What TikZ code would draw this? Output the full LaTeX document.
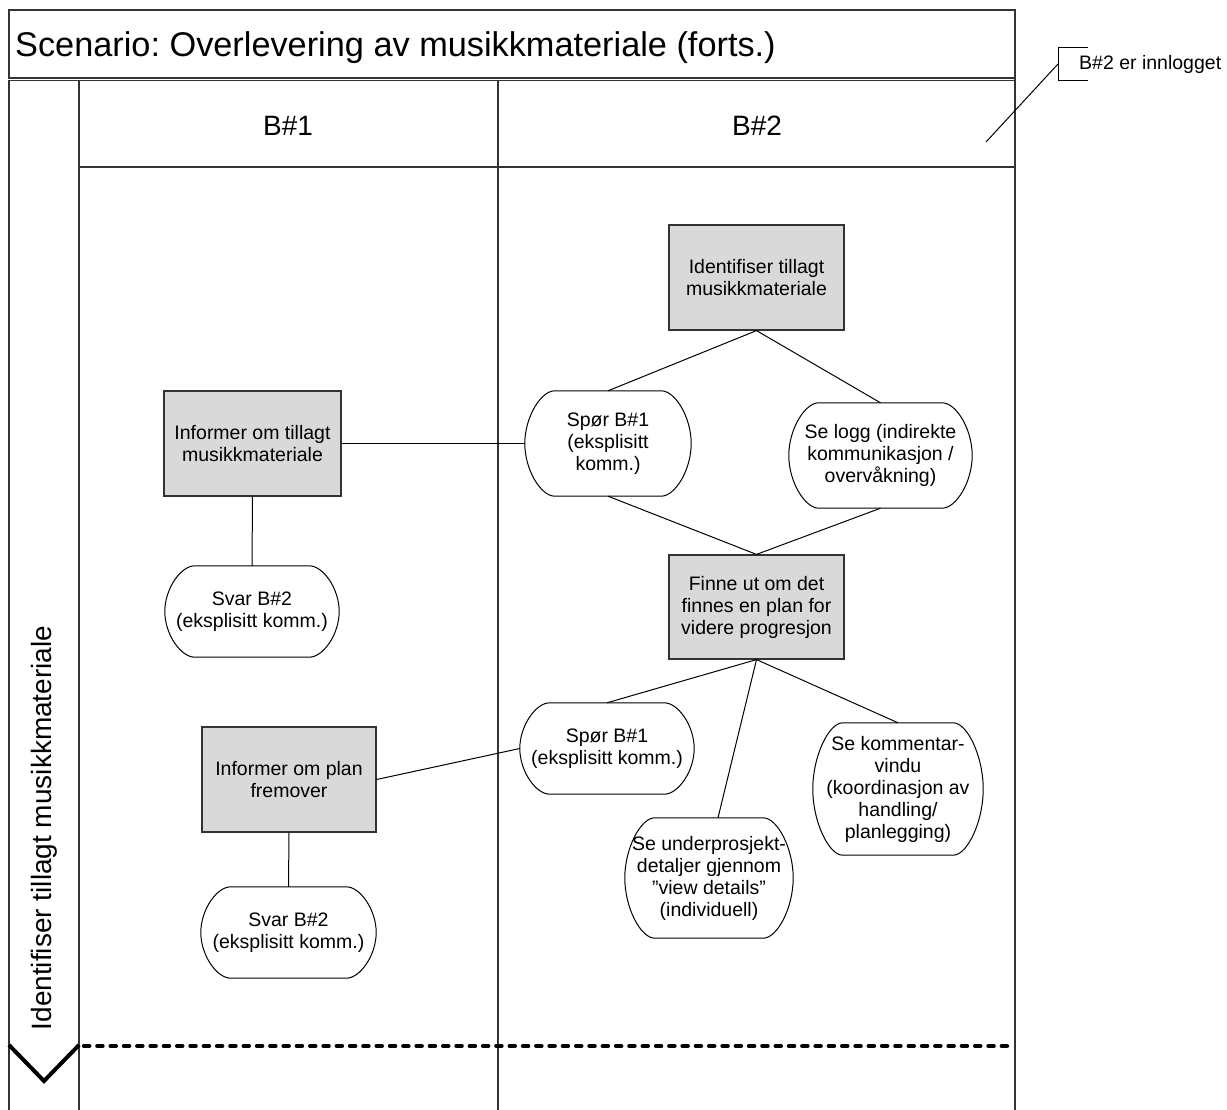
\documentclass[tikz,border=0pt]{standalone}
\usepackage{fontspec}
\setmainfont{Liberation Sans}
\usetikzlibrary{calc}

\definecolor{boxgray}{HTML}{D9D9D9}
\definecolor{framegray}{HTML}{333333}

\newcommand\titlefontsize{\fontsize{34.3}{39}\selectfont}
\newcommand\lanefontsize{\fontsize{28}{32}\selectfont}
\newcommand\stepfontsize{\fontsize{19.5}{22}\selectfont}

% terminal: name, x, y, width, height, text
% straight top and bottom edges, curved ends bulging 30pt
\newcommand\terminal[6]{%
  \node[termtext, minimum width=#4pt, minimum height=#5pt] (#1) at (#2,#3) {#6};
  \draw[termline] ([xshift=30pt]#1.north west) -- ([xshift=-30pt]#1.north east)
    .. controls ([xshift=-16pt]#1.north east) and ([yshift=#5pt/4]#1.east) .. (#1.east)
    .. controls ([yshift=-#5pt/4]#1.east) and ([xshift=-16pt]#1.south east) .. ([xshift=-30pt]#1.south east)
    -- ([xshift=30pt]#1.south west)
    .. controls ([xshift=16pt]#1.south west) and ([yshift=-#5pt/4]#1.west) .. (#1.west)
    .. controls ([yshift=#5pt/4]#1.west) and ([xshift=16pt]#1.north west) .. ([xshift=30pt]#1.north west)
    -- cycle;
}

\begin{document}
\frenchspacing
\begin{tikzpicture}[x=1pt, y=-1pt,
  frameline/.style={draw=framegray, line width=1.5pt},
  task/.style={draw=framegray, fill=boxgray, line width=1.2pt, align=center,
    font=\stepfontsize, inner sep=0pt},
  termtext/.style={align=center, font=\stepfontsize, inner sep=0pt},
  termline/.style={draw=black, line width=1pt},
  link/.style={draw=black, line width=1pt},
  swimarrow/.style={draw=black, line width=4pt},
  separator/.style={draw=black, line width=4.2pt, line cap=round, dash pattern=on 5.3pt off 8pt},
]
\useasboundingbox (0,0) rectangle (1227,1110);

% frame and swimlane grid
\draw[frameline] (9,79) -- (9,10) -- (1015,10) -- (1015,1110);
\draw[frameline] (9,78) -- (1015,78);
\draw[frameline] (9,80.5) -- (1015,80.5);
\draw[frameline] (9,80) -- (9,1110);
\draw[frameline] (79,80) -- (79,1110);
\draw[frameline] (498,80) -- (498,1110);
\draw[frameline] (79,167) -- (1015,167);

% titles
\node[anchor=base west, font=\titlefontsize, inner sep=0pt] (title) at (15,57) {Scenario: Overlevering av musikkmateriale (forts.)};
\node[font=\lanefontsize] (laneA) at (288,126) {B\#1};
\node[font=\lanefontsize] (laneB) at (757,126) {B\#2};
\node[rotate=90, font=\lanefontsize] (phase) at (44,828) {Identifiser tillagt musikkmateriale};

% phase end marker and separator
\draw[swimarrow, line join=miter] (9,1045) -- (44,1081) -- (79,1045);
\draw[separator] (84,1046) -- (1013,1046);

% annotation
\coordinate (annoA) at (1058,64);
\coordinate (annoB) at (986,142);
\draw[draw=black, line width=1pt] (1088,48) -- (1058,48) -- (1058,81) -- (1088,81);
\node[anchor=west, font=\stepfontsize, inner sep=0pt] (annotext) at (1079,64) {B\#2 er innlogget};
\draw[link] (annoA) -- (annoB);

% process steps
\node[task, minimum width=175pt, minimum height=105pt] (ident) at (756.5,277.5) {Identifiser tillagt\\musikkmateriale};
\node[task, minimum width=177pt, minimum height=105pt] (inf1) at (252.5,443.5) {Informer om tillagt\\musikkmateriale};
\node[task, minimum width=175pt, minimum height=104pt] (finne) at (756.5,607) {Finne ut om det\\finnes en plan for\\videre progresjon};
\node[task, minimum width=174pt, minimum height=105pt] (inf2) at (289,779.5) {Informer om plan\\fremover};

% communication alternatives
\terminal{spor1}{608}{443.5}{166}{105}{Spør B\#1\\(eksplisitt\\komm.)}
\terminal{logg}{880.5}{455.5}{183}{105}{Se logg (indirekte\\kommunikasjon /\\overvåkning)}
\terminal{svar1}{252}{611.5}{174}{91}{Svar B\#2\\(eksplisitt komm.)}
\terminal{spor2}{607}{748.5}{174}{91}{Spør B\#1\\(eksplisitt komm.)}
\terminal{svar2}{288.5}{932.5}{175}{91}{Svar B\#2\\(eksplisitt komm.)}
\terminal{under}{709}{878}{168}{120}{Se underprosjekt-\\detaljer gjennom\\”view details”\\(individuell)}
\terminal{komm}{898}{789}{170}{132}{Se kommentar-\\vindu\\(koordinasjon av\\handling/\\planlegging)}

% connectors
\draw[link] (ident.south) -- (spor1.north);
\draw[link] (ident.south) -- (logg.north);
\draw[link] (spor1.south) -- (finne.north);
\draw[link] (logg.south) -- (finne.north);
\draw[link] (inf1.east) -- (spor1.west);
\draw[link] (inf1.south) -- (svar1.north);
\draw[link] (finne.south) -- (spor2.north);
\draw[link] (finne.south) -- ([xshift=9pt]under.north);
\draw[link] (finne.south) -- (komm.north);
\draw[link] (inf2.east) -- (spor2.west);
\draw[link] (inf2.south) -- (svar2.north);
\end{tikzpicture}
\end{document}
